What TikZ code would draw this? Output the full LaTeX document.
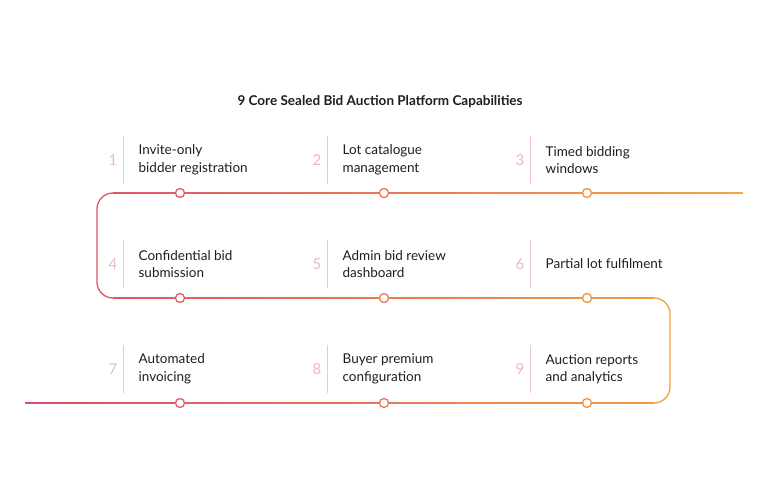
\documentclass[tikz,border=0pt]{standalone}
\usepackage{fontspec}
\setmainfont{Lato}
\definecolor{lc1}{HTML}{DD4A6E}
\definecolor{lc2}{HTML}{F4A63C}
\definecolor{sep}{HTML}{F2C4CE}
\definecolor{num}{HTML}{EDB8C4}
\definecolor{txt}{HTML}{1E1E1E}
\begin{document}
\begin{tikzpicture}[x=1pt,y=-1pt,line width=1.3pt,
  lbl/.style={anchor=west,align=left,font=\fontsize{13.5}{17.5}\selectfont,text=txt,inner sep=0pt},
  numb/.style={font=\fontsize{15}{15}\selectfont,text=num,inner sep=0pt},
  dot/.style={circle,draw,fill=white,line width=1.3pt,minimum size=9pt,inner sep=0pt}]
\fill[white] (0,0) rectangle (768,501);
\useasboundingbox (0,0) rectangle (768,501);
\node[font=\bfseries\fontsize{13.5}{15}\selectfont,text=txt] (title) at (380,102) {9 Core Sealed Bid Auction Platform Capabilities};
% rows
\foreach \y/\a/\b in {193/113/743, 298/113/654, 403/25/654}{
  \pgfmathtruncatemacro\n{(\b-\a)/8}
  \foreach \i in {0,...,\n}{
    \pgfmathsetmacro\xa{\a+8*\i}
    \pgfmathsetmacro\xb{min(\xa+8.6,\b)}
    \pgfmathtruncatemacro\p{100-(\xa-25)/7.18}
    \draw[color=lc1!\p!lc2] (\xa,\y) -- (\xb,\y);
  }
}
\draw[color=lc1!88!lc2,rounded corners=16pt] (113.3,193) -- (97,193) -- (97,298) -- (113.3,298);
\draw[color=lc2!95!lc1,rounded corners=16pt] (653.7,298) -- (670,298) -- (670,403) -- (653.7,403);
% items
\foreach \r/\y in {1/193,2/298,3/403}{
  \foreach \c/\x in {1/180,2/384,3/587}{
    \pgfmathtruncatemacro\p{100-(\x-25)/7.18}
    \node[dot,draw=lc1!\p!lc2] (d\r\c) at (\x,\y) {};
  }
}
\foreach \n/\x/\y/\t in {
 1/123/160/{Invite-only\\bidder registration},
 2/327/160/{Lot catalogue\\management},
 3/530/160/{Timed bidding\\windows},
 4/123/264/{Confidential bid\\submission},
 5/327/264/{Admin bid review\\dashboard},
 6/530/264/{Partial lot fulfilment},
 7/123/369/{Automated\\invoicing},
 8/327/369/{Buyer premium\\configuration},
 9/530/369/{Auction reports\\and analytics}}{
  \draw[sep,line width=1pt] (\x,\y-24) -- (\x,\y+24);
  \node[numb] (n\n) at (\x-10,\y) {\n};
  \node[lbl] (t\n) at (\x+15,\y) {\t};
}
\end{tikzpicture}
\end{document}
